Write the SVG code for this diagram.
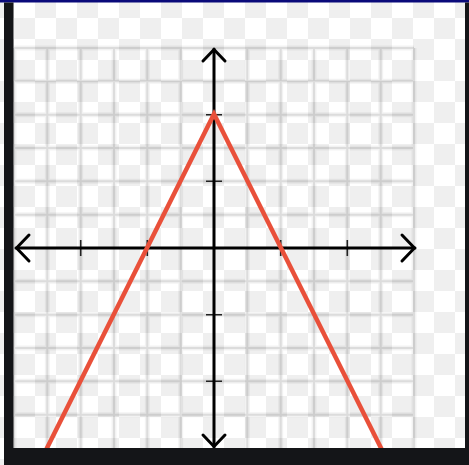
<svg xmlns="http://www.w3.org/2000/svg" width="469" height="465" viewBox="0 0 469 465">
  <defs>
    <pattern id="checker" x="14" y="-3" width="42" height="42" patternUnits="userSpaceOnUse">
      <rect width="42" height="42" fill="#ffffff"/>
      <rect x="21" y="0" width="21" height="21" fill="#efefef"/>
      <rect x="0" y="21" width="21" height="21" fill="#efefef"/>
    </pattern>
  </defs>
  <style>
    .halo { stroke: #000; stroke-opacity: 0.05; stroke-width: 5; fill: none; }
    .grid { stroke: #000; stroke-opacity: 0.09; stroke-width: 2; fill: none; }
    .axis { stroke: #000; stroke-width: 3; fill: none; stroke-linecap: round; stroke-linejoin: round; }
    .tick { stroke: #222; stroke-width: 1.6; fill: none; }
    .curve { stroke: #e9503a; stroke-width: 4.5; fill: none; stroke-linejoin: miter; }
    .bar { fill: #141518; }
  </style>
  <rect id="background" x="0" y="0" width="469" height="465" fill="url(#checker)"/>
  <g id="grid">
    <path class="halo" d="M14 48V448 M47.3 48V448 M80.7 48V448 M114 48V448 M147.3 48V448 M180.7 48V448 M247.3 48V448 M280.7 48V448 M314 48V448 M347.3 48V448 M380.7 48V448 M414 48V448 M14 48H414 M14 81.3H414 M14 114.7H414 M14 148H414 M14 181.3H414 M14 214.7H414 M14 281.3H414 M14 314.7H414 M14 348H414 M14 381.3H414 M14 414.7H414"/>
    <path class="grid" d="M14 48V448 M47.3 48V448 M80.7 48V448 M114 48V448 M147.3 48V448 M180.7 48V448 M247.3 48V448 M280.7 48V448 M314 48V448 M347.3 48V448 M380.7 48V448 M414 48V448 M14 48H414 M14 81.3H414 M14 114.7H414 M14 148H414 M14 181.3H414 M14 214.7H414 M14 281.3H414 M14 314.7H414 M14 348H414 M14 381.3H414 M14 414.7H414"/>
  </g>
  <g id="axes">
    <path class="tick" d="M80.7 240V256 M147.3 240V256 M280.7 240V256 M347.3 240V256"/>
    <path class="tick" d="M206 114.7H222 M206 181.3H222 M206 314.7H222 M206 381.3H222"/>
    <path class="axis" d="M16 248H415"/>
    <path class="axis" d="M214 49V447"/>
    <path class="axis" d="M29 235L16.5 248L29 261"/>
    <path class="axis" d="M402 235L414.5 248L402 261"/>
    <path class="axis" d="M203 61L214 49.5L225 61"/>
    <path class="axis" d="M203 435L214 446.5L225 435"/>
  </g>
  <g id="curve">
    <path class="curve" d="M46 450L214 114L382 450"/>
  </g>
  <g id="frame">
    <rect x="0" y="0" width="469" height="2.5" fill="#0a0a7a"/>
    <rect class="bar" x="4" y="2.5" width="9.5" height="462.5"/>
    <rect class="bar" x="4" y="448" width="465" height="17"/>
    <rect class="bar" x="465" y="2.5" width="4" height="462.5"/>
  </g>
</svg>
